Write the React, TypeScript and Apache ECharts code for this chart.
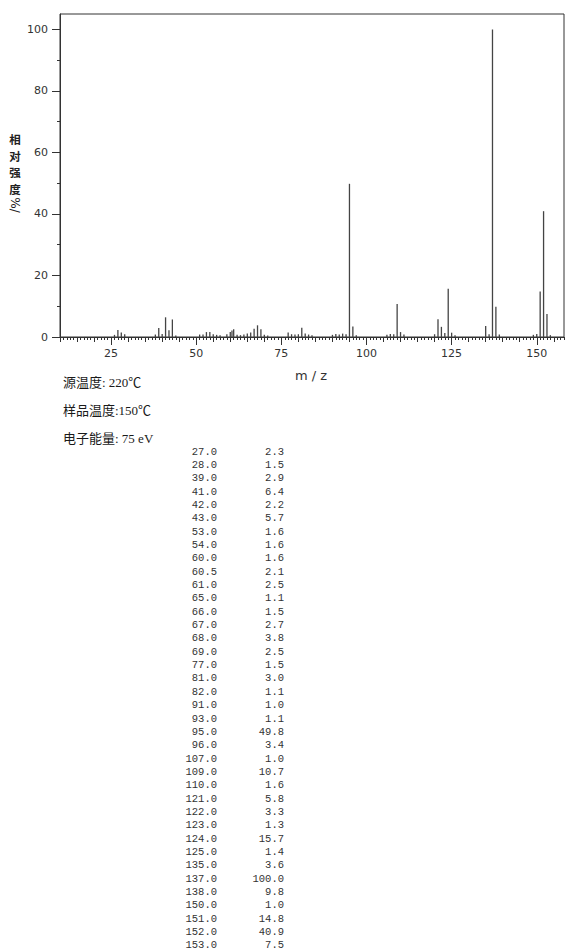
import React, { useEffect, useRef } from "react";
import * as echarts from "echarts";

// Listed peaks (table)
const peakMz = [27.0, 28.0, 39.0, 41.0, 42.0, 43.0, 53.0, 54.0, 60.0, 60.5, 61.0, 65.0, 66.0, 67.0, 68.0, 69.0, 77.0, 81.0, 82.0, 91.0, 93.0, 95.0, 96.0, 107.0, 109.0, 110.0, 121.0, 122.0, 123.0, 124.0, 125.0, 135.0, 137.0, 138.0, 150.0, 151.0, 152.0, 153.0];
const peakInt = [2.3, 1.5, 2.9, 6.4, 2.2, 5.7, 1.6, 1.6, 1.6, 2.1, 2.5, 1.1, 1.5, 2.7, 3.8, 2.5, 1.5, 3.0, 1.1, 1.0, 1.1, 49.8, 3.4, 1.0, 10.7, 1.6, 5.8, 3.3, 1.3, 15.7, 1.4, 3.6, 100.0, 9.8, 1.0, 14.8, 40.9, 7.5];

// Small unlisted peaks (estimated from the plot)
const minorMz = [26, 29, 38, 40, 44, 51, 52, 55, 56, 57, 59, 62, 63, 64, 70, 71, 78, 79, 80, 83, 84, 90, 92, 94, 97, 106, 108, 111, 120, 126, 136, 139, 149, 154];
const minorInt = [0.7, 0.9, 0.8, 1.0, 0.5, 0.8, 0.8, 0.9, 0.7, 0.6, 0.9, 0.7, 0.6, 0.8, 0.7, 0.5, 0.9, 0.8, 0.9, 0.8, 0.6, 0.7, 0.8, 0.9, 0.6, 0.7, 0.9, 0.8, 0.9, 0.6, 0.9, 0.8, 0.7, 0.6];

const xMajorTicks = [25, 50, 75, 100, 125, 150];
const yMajorTicks = [0, 20, 40, 60, 80, 100];
const yMinorTicks = [10, 30, 50, 70, 90];

const yNameChars = ["相", "对", "强", "度"];
const infoLines = ["源温度: 220℃", "样品温度:150℃", "电子能量: 75 eV"];

const X_MIN = 10;
const X_MAX = 158;

export default function App() {
  const ref = useRef<HTMLDivElement>(null);
  useEffect(() => {
    if (!ref.current) return;
    const chart = echarts.init(ref.current, undefined, { renderer: "svg" });

    const fiveTicks: number[] = [];
    for (let v = X_MIN; v <= X_MAX; v += 5) if (v % 25 !== 0) fiveTicks.push(v);
    const unitTicks: number[] = [];
    for (let v = X_MIN; v <= X_MAX; v += 1) if (v % 5 !== 0) unitTicks.push(v);

    const barData = [
      ...peakMz.map((m, i) => [m, peakInt[i]]),
      ...minorMz.map((m, i) => [m, minorInt[i]]),
    ];

    const cjk = '"Noto Sans CJK SC", sans-serif';
    const info = '"Liberation Serif", "Noto Sans CJK SC", serif';
    const mono = '"Liberation Mono", "DejaVu Sans Mono", monospace';

    const graphics: any[] = [];
    yNameChars.forEach((c, i) => {
      graphics.push({
        type: "text",
        x: 15,
        y: 139 + i * 16.7,
        style: {
          text: c,
          fontSize: 11.5,
          fontWeight: "bold",
          fontFamily: cjk,
          fill: "#222",
          textAlign: "center",
          textVerticalAlign: "middle",
        },
      });
    });
    graphics.push(
      {
        type: "text",
        x: 15,
        y: 205,
        rotation: -Math.PI / 2,
        style: {
          text: "%/",
          fontSize: 12,
          fontFamily: '"DejaVu Sans", sans-serif',
          fill: "#222",
          textAlign: "center",
          textVerticalAlign: "middle",
        },
      },
      {
        type: "text",
        x: 311,
        y: 375,
        style: {
          text: "m / z",
          fontSize: 13,
          fontFamily: '"DejaVu Sans", sans-serif',
          fill: "#333",
          textAlign: "center",
          textVerticalAlign: "middle",
        },
      }
    );
    infoLines.forEach((t, i) => {
      graphics.push({
        type: "text",
        x: 63,
        y: 382 + i * 28,
        style: {
          text: t,
          fontSize: 13,
          fontFamily: info,
          fill: "#1a1a1a",
          textAlign: "left",
          textVerticalAlign: "middle",
        },
      });
    });
    peakMz.forEach((m, i) => {
      const y = 451.5 + i * 13.35;
      graphics.push({
        type: "text",
        x: 217,
        y,
        style: { text: m.toFixed(1), fontSize: 10.5, fontFamily: mono, fill: "#333", textAlign: "right", textVerticalAlign: "middle" },
      });
      graphics.push({
        type: "text",
        x: 284,
        y,
        style: { text: peakInt[i].toFixed(1), fontSize: 10.5, fontFamily: mono, fill: "#333", textAlign: "right", textVerticalAlign: "middle" },
      });
    });

    const option: any = {
      animation: false,
      grid: {
        left: 60,
        top: 14,
        width: 504,
        height: 323,
        show: true,
        borderColor: "#333",
        borderWidth: 1,
        backgroundColor: "transparent",
        containLabel: false,
      },
      xAxis: [
        {
          type: "value",
          position: "bottom",
          offset: 0,
          min: X_MIN,
          max: X_MAX,
          axisLine: { show: true, onZero: false, lineStyle: { color: "#333", width: 1 } },
          axisTick: { show: true, customValues: xMajorTicks, length: 8, lineStyle: { color: "#333" } },
          axisLabel: { customValues: xMajorTicks, color: "#333", fontSize: 11, fontFamily: '"DejaVu Sans", sans-serif', margin: 11 },
          splitLine: { show: false },
        },
        {
          type: "value",
          position: "bottom",
          offset: 0,
          min: X_MIN,
          max: X_MAX,
          axisLine: { show: false, onZero: false },
          axisTick: { show: true, customValues: fiveTicks, length: 5, lineStyle: { color: "#333" } },
          axisLabel: { show: false },
          splitLine: { show: false },
        },
        {
          type: "value",
          position: "bottom",
          offset: 0,
          min: X_MIN,
          max: X_MAX,
          axisLine: { show: false, onZero: false },
          axisTick: { show: true, customValues: unitTicks, length: 3, lineStyle: { color: "#333" } },
          axisLabel: { show: false },
          splitLine: { show: false },
        },
      ],
      yAxis: [
        {
          type: "value",
          position: "left",
          offset: 0,
          min: 0,
          max: 105,
          axisLine: { show: true, onZero: false, lineStyle: { color: "#333", width: 1 } },
          axisTick: { show: true, customValues: yMajorTicks, length: 8, lineStyle: { color: "#333" } },
          axisLabel: { customValues: yMajorTicks, color: "#333", fontSize: 11, fontFamily: '"DejaVu Sans", sans-serif', margin: 12 },
          splitLine: { show: false },
        },
        {
          type: "value",
          position: "left",
          offset: 0,
          min: 0,
          max: 105,
          axisLine: { show: false, onZero: false },
          axisTick: { show: true, customValues: yMinorTicks, length: 3, lineStyle: { color: "#333" } },
          axisLabel: { show: false },
          splitLine: { show: false },
        },
      ],
      series: [
        {
          type: "bar",
          xAxisIndex: 0,
          yAxisIndex: 0,
          data: barData,
          barWidth: 1.3,
          itemStyle: { color: "#444" },
          silent: true,
        },
      ],
      graphic: graphics,
    };
    chart.setOption(option);
    return () => chart.dispose();
  }, []);
  return <div ref={ref} style={{ position: "absolute", left: 0, top: 0, width: 570, height: 951 }} />;
}
